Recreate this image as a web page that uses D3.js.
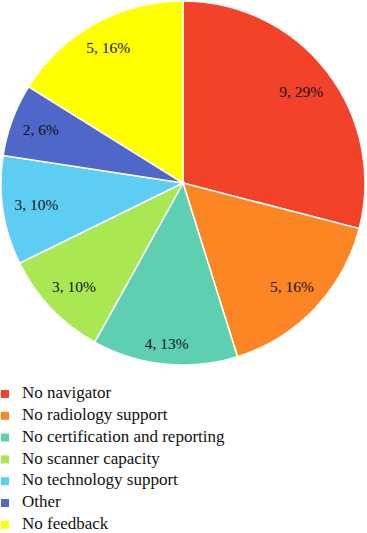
<!DOCTYPE html>
<html>
<head>
<meta charset="utf-8">
<script src="https://cdn.jsdelivr.net/npm/d3@7"></script>
<style>
  body { margin: 0; background: #fff; }
</style>
</head>
<body>
<div id="app"></div>
<script>
// data
var categories = ["No navigator", "No radiology support", "No certification and reporting",
  "No scanner capacity", "No technology support", "Other", "No feedback"]
var counts = [9, 5, 4, 3, 3, 2, 5]
var colours = ["#F2432A", "#FB8623", "#5ECFB1", "#A9E852", "#5ECDF3", "#4F67C8", "#FFFF00"]

var width = 367, height = 533
var cx = 183, cy = 183, radius = 182
var serif = "Liberation Serif"

var svg = d3.select("#app").append("svg")
  .attr("width", width)
  .attr("height", height)

var total = d3.sum(counts)
var data = categories.map((c, i) => ({name: c, value: counts[i], colour: colours[i]}))

var pie = d3.pie().value(d => d.value).sort(null)
var arc = d3.arc().innerRadius(0).outerRadius(radius)

var g = svg.append("g").attr("transform", "translate(" + cx + "," + cy + ")")

var slices = g.selectAll(".slice").data(pie(data)).enter().append("g").classed("slice", true)

slices.append("path")
  .attr("d", arc)
  .attr("fill", d => d.data.colour)
  .attr("stroke", "#fff")
  .attr("stroke-width", 1.5)

// labels: pushed out so the outer edge of the text box sits at a fixed distance
var labels = slices.append("text")
  .attr("text-anchor", "middle")
  .attr("dy", "0.32em")
  .attr("font-family", serif)
  .attr("font-size", 15.5)
  .attr("fill", "#111")
  .text(d => d.data.value + ", " + Math.round(d.data.value / total * 100) + "%")

labels.attr("transform", function(d) {
  var w = this.getComputedTextLength() / 2, h = 7
  var a = (d.startAngle + d.endAngle) / 2
  var reach = w * Math.abs(Math.sin(a)) + h * Math.abs(Math.cos(a))
  var r = radius * 0.94 - reach
  return "translate(" + (r * Math.sin(a)) + "," + (-r * Math.cos(a)) + ")"
})

// legend
var legend = svg.selectAll(".legend").data(data).enter().append("g").classed("legend", true)
  .attr("transform", (d, i) => "translate(1," + (394 + i * 21.8) + ")")

legend.append("rect")
  .attr("x", 0).attr("y", -4)
  .attr("width", 8).attr("height", 8)
  .attr("fill", d => d.colour)

legend.append("text")
  .attr("x", 21)
  .attr("dy", "0.25em")
  .attr("font-family", serif)
  .attr("font-size", 17)
  .attr("fill", "#111")
  .text(d => d.name)
</script>
</body>
</html>
